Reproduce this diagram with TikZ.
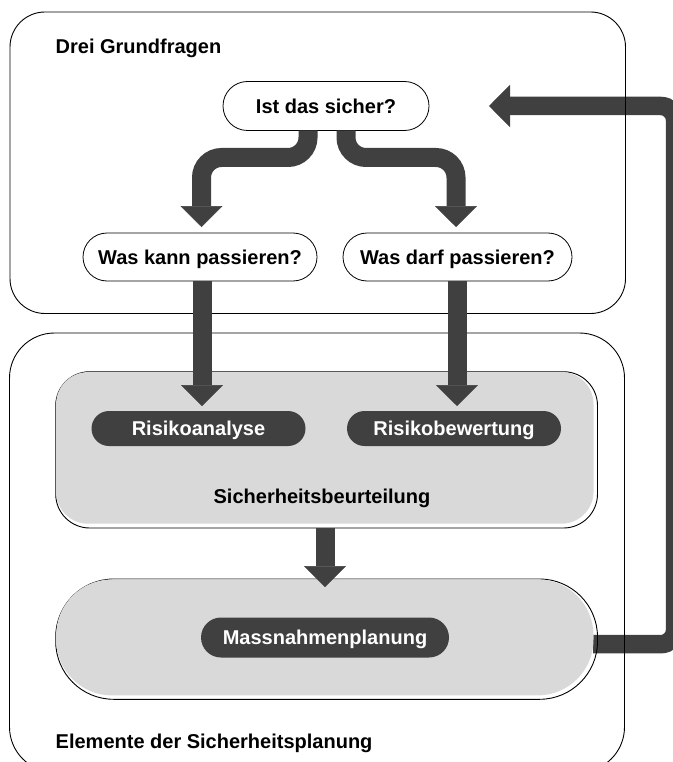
\documentclass[tikz,border=0pt]{standalone}
\usepackage{fontspec}
\setmainfont{Liberation Sans}
\usetikzlibrary{arrows.meta,calc,backgrounds}
\definecolor{arrowgray}{HTML}{404040}
\definecolor{panelgray}{HTML}{D9D9D9}
\begin{document}
\begin{tikzpicture}[x=1pt,y=-1pt,
  font=\fontsize{20}{24}\selectfont\bfseries,
  every node/.style={inner sep=0pt, outer sep=0pt},
  frame/.style={draw=black, line width=0.9pt},
  panelline/.style={draw=black, line width=0.9pt},
  panelfill/.style={fill=panelgray, draw=none},
  question/.style={draw=black, line width=0.8pt, fill=white,
    text height=14.5pt, text depth=0pt},
  darkpill/.style={fill=arrowgray, draw=none, text=white,
    text height=14.5pt, text depth=0pt},
  bigarrow/.style={draw=arrowgray, line width=19pt,
    -{Triangle[width=42pt,length=21pt,line width=0.5pt]}},
  feedline/.style={draw=arrowgray, line width=18pt}
]
\useasboundingbox (0,0) rectangle (672,762);
\clip (0,0) rectangle (672,762);

% light gray panels with offset outline
\node[panelline, rounded corners=34pt, minimum width=541.8pt, minimum height=156.3pt] (sbline) at (326.6,449.85) {};
\node[panelfill, rounded corners=32pt, minimum width=537.4pt, minimum height=151.6pt] (sb) at (324.8,447.9) {};
\node[panelline, rounded corners=58pt, minimum width=541.8pt, minimum height=120.3pt] (mpline) at (326.6,639.15) {};
\node[panelfill, rounded corners=56pt, minimum width=537.4pt, minimum height=116.1pt] (mpb) at (324.8,637.4) {};

% question pills
\node[question, rounded corners=24.5pt, minimum width=206pt, minimum height=49pt] (q0) at (326,106) {Ist das sicher?};
\node[question, rounded corners=24pt, minimum width=234pt, minimum height=48pt] (q1) at (200,257) {Was kann passieren?};
\node[question, rounded corners=24pt, minimum width=229pt, minimum height=48pt] (q2) at (457.5,257) {Was darf passieren?};

% dark element pills
\node[darkpill, rounded corners=17.5pt, minimum width=214pt, minimum height=35pt] (r1) at (198.5,428.5) {Risikoanalyse};
\node[darkpill, rounded corners=17.5pt, minimum width=214pt, minimum height=35pt] (r2) at (454,428.5) {Risikobewertung};
\node[darkpill, rounded corners=20pt, minimum width=248pt, minimum height=40pt] (mp) at (325,637.5) {Massnahmenplanung};

% captions
\node[anchor=base west] (cap1) at (55.7,53.3) {Drei Grundfragen};
\node[anchor=base] (cap2) at (322,503) {Sicherheitsbeurteilung};
\node[anchor=base west] (cap3) at (55.7,748) {Elemente der Sicherheitsplanung};

% branching arrows from the first question
\coordinate (kl) at (201.5,157.5);
\coordinate (kr) at (456,157.5);
\draw[bigarrow, rounded corners=20pt] ($(q0.south)+(-18,0)$) |- (kl) -- ($(q1.north)+(1.5,-6)$);
\draw[bigarrow, rounded corners=20pt] ($(q0.south)+(20,0)$) |- (kr) -- ($(q2.north)+(-1.5,-6)$);

% straight arrows down
\draw[bigarrow] ($(q1.south)+(2,0)$) -- ($(r1.north)+(3.5,-5)$);
\draw[bigarrow] ($(q2.south)+(-0.5,0)$) -- ($(r2.north)+(3,-5)$);
\draw[bigarrow] ($(sbline.south)+(-1.6,0)$) -- ($(mpline.north)+(-1.6,8)$);

\begin{pgfonlayer}{background}
  % feedback loop back to the first question
  \coordinate (fb) at (675,106);
  \draw[bigarrow, line width=18.5pt, rounded corners=14pt]
    ($(mpline.east)+(-4.5,5)$) -| (fb) -- ($(q0.east)+(60,0)$);
  % container frames
  \node[frame, rounded corners=35pt, minimum width=615.5pt, minimum height=301.5pt] (topframe) at (317.75,162.75) {};
  \node[frame, rounded corners=45pt, minimum width=615pt, minimum height=439pt] (botframe) at (317,552.5) {};
\end{pgfonlayer}
\end{tikzpicture}
\end{document}
